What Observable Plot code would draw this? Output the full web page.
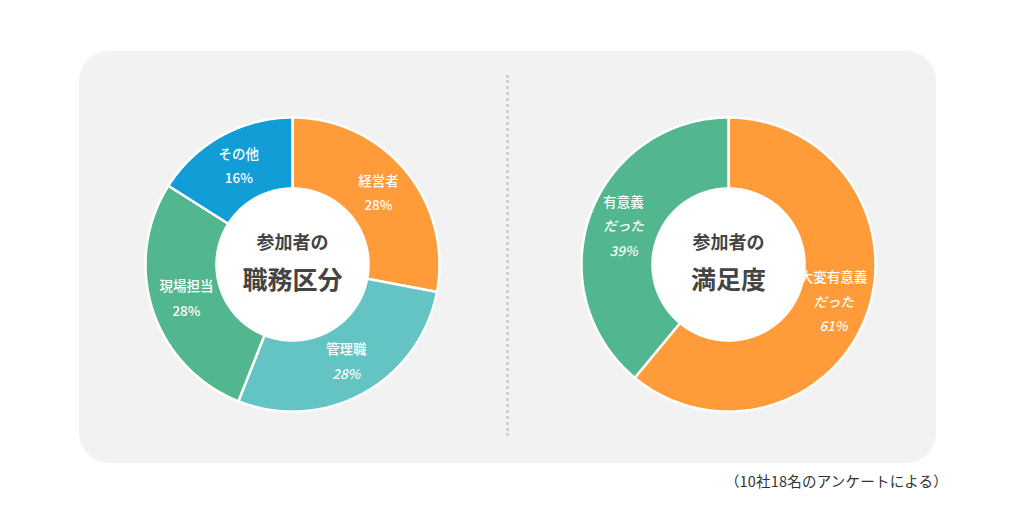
<!DOCTYPE html>
<html><head><meta charset="utf-8">
<script src="https://cdn.jsdelivr.net/npm/d3@7"></script>
<script src="https://cdn.jsdelivr.net/npm/@observablehq/plot@0.6"></script>
<style>
html,body{margin:0;padding:0;background:#fff;width:1024px;height:512px;overflow:hidden;font-family:"Noto Sans CJK JP","Noto Sans",sans-serif;}
#panel{position:absolute;left:79px;top:51px;width:857px;height:412px;background:#f2f2f2;border-radius:30px;}
#divider{position:absolute;left:427px;top:24px;height:361px;border-left:3px dotted #d0d0d0;}
.pie{position:absolute;top:63px;width:300px;height:300px;}
#left{left:63px;}
#right{left:499px;}
#caption{position:absolute;right:76px;top:470px;font-size:14.5px;color:#333;line-height:22px;letter-spacing:0.2px;}
</style></head>
<body>
<div id="panel"><div id="divider"></div><div id="left" class="pie"></div><div id="right" class="pie"></div></div>
<div id="caption">（10社18名のアンケートによる）</div>
<script>
// Chart 1: 参加者の職務区分
const roleNames = ["経営者", "管理職", "現場担当", "その他"];
const roleValues = [28, 28, 28, 16];
const roleColors = ["#ff9b38", "#64c4c4", "#52b68e", "#119dd6"];
const roleLabelLines = [[["経営者", false], ["28%", false]], [["管理職", false], ["28%", true]], [["現場担当", false], ["28%", false]], [["その他", false], ["16%", false]]];
const roleTitle = ["参加者の", "職務区分"];

// Chart 2: 参加者の満足度
const satNames = ["大変有意義だった", "有意義だった"];
const satValues = [61, 39];
const satColors = ["#ff9b38", "#52b68e"];
const satLabelLines = [[["大変有意義", false], ["だった", true], ["61%", true]], [["有意義", false], ["だった", true], ["39%", true]]];
const satTitle = ["参加者の", "満足度"];

const INNER = 0.517;
const PX = 147; // pixels per unit radius

function donut(el, names, values, colors, labelLines, title) {
  const total = d3.sum(values);
  const pts = [];
  const labels = [];
  let acc = 0;
  names.forEach((n, i) => {
    const a0 = acc / total * 2 * Math.PI;
    acc += values[i];
    const a1 = acc / total * 2 * Math.PI;
    const steps = Math.max(8, Math.ceil((a1 - a0) / 0.01));
    for (let k = 0; k <= steps; k++) {
      const a = a0 + (a1 - a0) * k / steps;
      pts.push({key: n, x: Math.sin(a), y: Math.cos(a)});
    }
    for (let k = steps; k >= 0; k--) {
      const a = a0 + (a1 - a0) * k / steps;
      pts.push({key: n, x: INNER * Math.sin(a), y: INNER * Math.cos(a)});
    }
    pts.push({key: n, x: Math.sin(a0), y: Math.cos(a0)});
    const am = (a0 + a1) / 2, rm = (1 + INNER) / 2;
    const lines = labelLines[i];
    const lh = 24.5 / PX;
    lines.forEach(([t, it], j) => {
      labels.push({x: rm * Math.sin(am), y: rm * Math.cos(am) - (j - (lines.length - 1) / 2) * lh, text: t, italic: it});
    });
  });
  const plot = Plot.plot({
    width: 300, height: 300, margin: 3,
    x: {domain: [-1, 1], axis: null},
    y: {domain: [-1, 1], axis: null},
    color: {domain: names, range: colors},
    style: {background: "transparent", fontFamily: "'Noto Sans CJK JP', sans-serif"},
    marks: [
      Plot.line(pts, {x: "x", y: "y", z: "key", fill: "key", stroke: "white", strokeWidth: 2.5, curve: "linear", strokeLinejoin: "miter"}),
      Plot.dot([{x: 0, y: 0}], {x: "x", y: "y", r: INNER * PX - 1, fill: "white", stroke: "none"}),
      Plot.text(labels.filter(d => !d.italic), {x: "x", y: "y", text: "text", fill: "white", fontSize: 13.5, fontWeight: 500}),
      Plot.text(labels.filter(d => d.italic), {x: "x", y: "y", text: "text", fill: "white", fontSize: 13.5, fontWeight: 500, fontStyle: "italic"}),
      Plot.text([title[0]], {x: () => 0, y: () => 0, text: d => d, dy: -21, fill: "#444", fontSize: 18, fontWeight: "bold"}),
      Plot.text([title[1]], {x: () => 0, y: () => 0, text: d => d, dy: 16, fill: "#444", fontSize: 25, fontWeight: "bold"})
    ]
  });
  document.getElementById(el).appendChild(plot);
}
donut("left", roleNames, roleValues, roleColors, roleLabelLines, roleTitle);
donut("right", satNames, satValues, satColors, satLabelLines, satTitle);
</script>
</body></html>
